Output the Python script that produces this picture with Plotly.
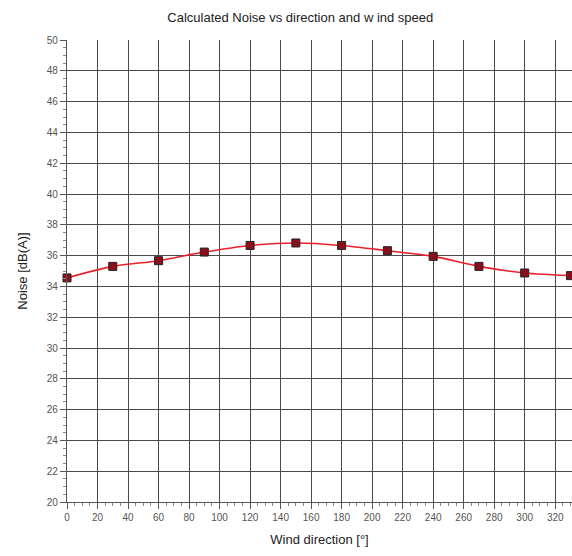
import plotly.graph_objects as go

directions = [0, 30, 60, 90, 120, 150, 180, 210, 240, 270, 300, 330]
noise = [34.55, 35.3, 35.67, 36.23, 36.66, 36.82, 36.66, 36.32, 35.95, 35.3, 34.87, 34.7]
x_ticks = list(range(0, 340, 20))
y_ticks = list(range(20, 52, 2))

fig = go.Figure()
fig.add_trace(go.Scatter(
    x=directions, y=noise, mode="lines+markers",
    line=dict(color="#e8202a", width=1.6, shape="spline", smoothing=0.8),
    marker=dict(symbol="square", size=8, color="#8b0f1a", line=dict(color="#222222", width=1)),
    showlegend=False, cliponaxis=False,
))

font = "Liberation Sans, Arial, sans-serif"
fig.update_layout(
    width=572, height=556,
    margin=dict(l=67, r=0, t=40, b=54),
    paper_bgcolor="white", plot_bgcolor="white",
    title=dict(text="Calculated Noise vs direction and w ind speed", x=0.525, xanchor="center",
               y=0.968, yanchor="middle", font=dict(family=font, size=13, color="#222222")),
    font=dict(family=font, color="#444444"),
    xaxis=dict(
        range=[0, 331], tickvals=x_ticks, ticktext=[str(v) for v in x_ticks],
        showgrid=True, gridcolor="#4a4a4a", gridwidth=1,
        showline=True, linecolor="#555555", linewidth=1.2,
        ticks="outside", ticklen=6, tickcolor="#555555",
        minor=dict(dtick=5, ticks="outside", ticklen=3, tickcolor="#888888", showgrid=False),
        tickfont=dict(size=10, color="#555555"), zeroline=False,
        title=dict(text="Wind direction [°]", font=dict(size=13, color="#222222"), standoff=12),
    ),
    yaxis=dict(
        range=[20, 50], tickvals=y_ticks, ticktext=[str(v) for v in y_ticks],
        showgrid=True, gridcolor="#4a4a4a", gridwidth=1,
        showline=True, linecolor="#555555", linewidth=1.2,
        ticks="outside", ticklen=6, tickcolor="#555555",
        minor=dict(dtick=0.5, ticks="outside", ticklen=3, tickcolor="#888888", showgrid=False),
        tickfont=dict(size=10, color="#555555"), zeroline=False,
        title=dict(text="Noise [dB(A)]", font=dict(size=13, color="#222222"), standoff=16),
    ),
)

fig.write_html("out.html")
